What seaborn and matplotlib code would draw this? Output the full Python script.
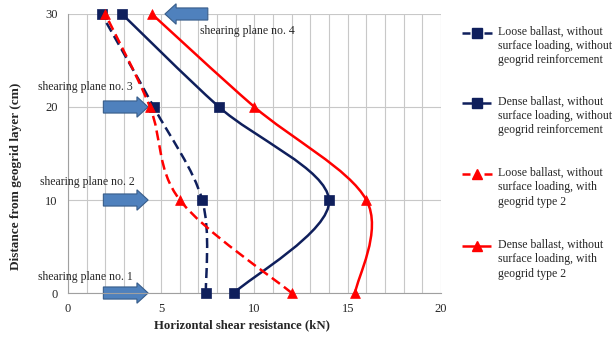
import matplotlib
matplotlib.use('Agg')
import matplotlib.pyplot as plt
import seaborn as sns
import numpy as np
import pandas as pd
from matplotlib.path import Path
from matplotlib.patches import PathPatch, FancyArrow
from matplotlib.lines import Line2D
from matplotlib.ticker import MultipleLocator

# --- DATA ---
distance = [0, 10, 20, 30]
loose_plain = [7.4, 7.2, 4.6, 1.8]
dense_plain = [8.9, 14.0, 8.1, 2.9]
loose_grid = [12.0, 6.0, 4.4, 2.0]
dense_grid = [15.4, 16.0, 10.0, 4.5]

labels = [
    "Loose ballast, without\nsurface loading, without\ngeogrid reinforcement",
    "Dense ballast, without\nsurface loading, without\ngeogrid reinforcement",
    "Loose ballast, without\nsurface loading, with\ngeogrid type 2",
    "Dense ballast, without\nsurface loading, with\ngeogrid type 2",
]
plane_labels = ["shearing plane no. 1", "shearing plane no. 2",
                "shearing plane no. 3", "shearing plane no. 4"]

NAVY = "#0F1F5C"
RED = "#FF0000"
DASH = (0, (4, 2))
series = [
    (loose_plain, NAVY, "s", DASH),
    (dense_plain, NAVY, "s", "-"),
    (loose_grid, RED, "^", DASH),
    (dense_grid, RED, "^", "-"),
]

sns.set_style("white")
plt.rcParams['font.family'] = ['Liberation Serif', 'DejaVu Serif']

fig = plt.figure(figsize=(6.12, 3.38), dpi=100)
ax = fig.add_axes([0.111, 0.1331, 0.6095, 0.8255])
ax.set_xlim(0, 20)
ax.set_ylim(0, 30)

# grid
ax.xaxis.set_major_locator(MultipleLocator(5))
ax.xaxis.set_minor_locator(MultipleLocator(1))
ax.yaxis.set_major_locator(MultipleLocator(10))
ax.grid(True, which='both', axis='x', color='#C8C8C8', lw=0.8)
ax.grid(True, which='major', axis='y', color='#C8C8C8', lw=0.8)
ax.set_axisbelow(True)
for s in ['top', 'right']:
    ax.spines[s].set_visible(False)
for s in ['left', 'bottom']:
    ax.spines[s].set_color('#A0A0A0')
    ax.spines[s].set_linewidth(0.8)
ax.tick_params(axis='both', which='major', length=4, color='#A0A0A0',
               labelsize=9, direction='out')
ax.tick_params(axis='x', which='minor', length=0)


def smooth_path(xs, ys, sx, sy):
    # Excel-like smoothed line: cubic Bezier, control points in screen-scaled space
    P = np.column_stack([np.array(xs) * sx, np.array(ys) * sy])
    n = len(P)
    verts = [P[0]]
    codes = [Path.MOVETO]
    for i in range(n - 1):
        p0 = P[max(i - 1, 0)]
        p1 = P[i]
        p2 = P[i + 1]
        p3 = P[min(i + 2, n - 1)]
        c1 = p1 + (p2 - p0) / 6.0
        c2 = p2 - (p3 - p1) / 6.0
        verts += [c1, c2, p2]
        codes += [Path.CURVE4] * 3
    verts = np.array(verts) / np.array([sx, sy])
    return Path(verts, codes)


sx = 373 / 20.0
sy = 279 / 30.0

# arrows (drawn under lines)
arrow_kw = dict(width=1.3, head_width=2.2, head_length=0.6, length_includes_head=True,
                fc='#4F81BD', ec='#385D8A', lw=0.8, clip_on=False, zorder=2)
for yv in [0, 10, 20]:
    ax.add_patch(FancyArrow(1.9, yv, 2.4, 0, **arrow_kw))
ax.add_patch(FancyArrow(7.5, 30, -2.3, 0, **arrow_kw))

for (vals, col, mk, ls) in series:
    p = smooth_path(vals, distance, sx, sy)
    ax.add_patch(PathPatch(p, fill=False, ec=col, lw=1.8, ls=ls, zorder=3,
                           clip_on=False, capstyle='butt'))
    df = pd.DataFrame({'x': vals, 'y': distance})
    sns.scatterplot(data=df, x='x', y='y', marker=mk, color=col, s=45 if mk == 's' else 50,
                    edgecolor=col, linewidth=0.5, ax=ax, zorder=4, clip_on=False)

ax.set_xlabel("Horizontal shear resistance (kN)", fontsize=9.2, fontweight='bold')
ax.set_ylabel("Distance from geogrid layer (cm)", fontsize=9.5, fontweight='bold')
ax.xaxis.set_label_coords(0.466, -0.095)
ax.yaxis.set_label_coords(-0.122, 0.42)

# plane labels
plane_pos = [(-1.6, 1.7), (-1.5, 11.9), (-1.6, 22.1), (7.1, 28.2)]
for (px, py), t in zip(plane_pos, plane_labels):
    ax.text(px, py, t, fontsize=8.5, ha='left', va='center', clip_on=False)

# legend (manual, handle aligned with first text line)
W, H = 612.0, 338.0
leg_y = [33, 103, 174, 246]
for (vals, col, mk, ls), lab, yy in zip(series, labels, leg_y):
    fy = 1 - yy / H
    if ls == "-":
        segs = [(462, 491)]
    else:
        segs = [(462, 470), (484, 492)]
    for a, b in segs:
        fig.add_artist(Line2D([a / W, b / W], [fy, fy], color=col, lw=1.8,
                              solid_capstyle='butt', transform=fig.transFigure))
    fig.add_artist(Line2D([477 / W], [fy], color=col, marker=mk, ms=6.5, mec=col,
                          transform=fig.transFigure))
    fig.text(498 / W, fy + 7 / H, lab, fontsize=8.5, ha='left', va='top', linespacing=1.25)

fig.savefig("out.png", dpi=100)
